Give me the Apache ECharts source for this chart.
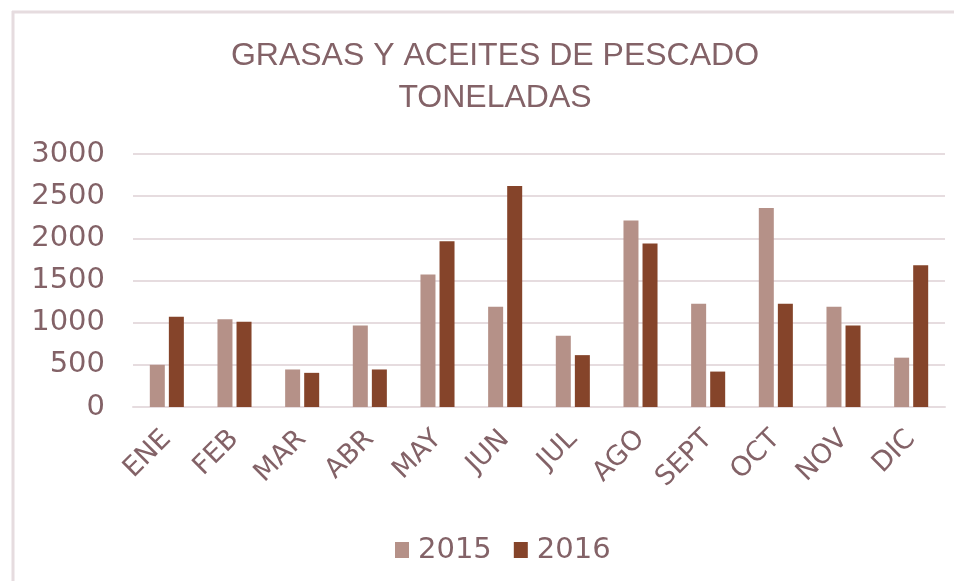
<!DOCTYPE html>
<html>
<head>
<meta charset="utf-8">
<script src="https://cdn.jsdelivr.net/npm/echarts@6/dist/echarts.min.js"></script>
<style>html,body{margin:0;padding:0;background:#fff;}#c{width:954px;height:581px;}</style>
</head>
<body>
<div id="c"></div>
<script>
const categories = ['ENE','FEB','MAR','ABR','MAY','JUN','JUL','AGO','SEPT','OCT','NOV','DIC'];
const values2015 = [500, 1040, 445, 965, 1570, 1190, 845, 2210, 1225, 2360, 1190, 585];
const values2016 = [1070, 1010, 405, 445, 1965, 2620, 615, 1940, 420, 1225, 965, 1680];
const seriesNames = ['2015', '2016'];
const yTicks = [0, 500, 1000, 1500, 2000, 2500, 3000];
const titleLines = ['GRASAS Y ACEITES DE PESCADO', 'TONELADAS'];

const textColor = '#836267';
const gridColor = '#e6dcdf';
const colors = ['#b59188', '#85442a'];

const chart = echarts.init(document.getElementById('c'), null, {renderer: 'canvas'});
chart.setOption({
  backgroundColor: '#ffffff',
  animation: false,
  color: colors,
  graphic: [
    {type: 'line', shape: {x1: 13, y1: 11, x2: 13, y2: 581}, style: {stroke: gridColor, lineWidth: 3}, z: 0},
    {type: 'line', shape: {x1: 12, y1: 12, x2: 954, y2: 12}, style: {stroke: gridColor, lineWidth: 3}, z: 0},
    {type: 'text', x: 495, y: 56, style: {text: titleLines[0], fontFamily: 'Liberation Sans', fontSize: 32, fill: textColor, textAlign: 'center', textVerticalAlign: 'middle'}},
    {type: 'text', x: 495, y: 98, style: {text: titleLines[1], fontFamily: 'Liberation Sans', fontSize: 32, fill: textColor, textAlign: 'center', textVerticalAlign: 'middle'}}
  ],
  legend: {
    data: seriesNames,
    left: 390,
    top: 530,
    itemWidth: 14,
    itemHeight: 16,
    itemGap: 22,
    icon: 'rect',
    textStyle: {color: textColor, fontFamily: 'DejaVu Sans', fontSize: 29, lineHeight: 30, padding: [0, 0, 0, 4]}
  },
  grid: {left: 133, right: 9, top: 154, bottom: 174, containLabel: false},
  xAxis: {
    type: 'category',
    data: categories,
    axisLine: {show: true, lineStyle: {color: gridColor, width: 2}},
    axisTick: {show: false},
    axisLabel: {rotate: 45, margin: 28, color: textColor, fontFamily: 'DejaVu Sans', fontSize: 27, interval: 0, padding: [0, 0, 0, 0]}
  },
  yAxis: {
    type: 'value',
    min: yTicks[0],
    max: yTicks[yTicks.length - 1],
    interval: yTicks[1] - yTicks[0],
    axisLine: {show: false},
    axisTick: {show: false},
    splitLine: {lineStyle: {color: gridColor, width: 2}},
    axisLabel: {margin: 28, color: textColor, fontFamily: 'DejaVu Sans', fontSize: 29, formatter: function (v) { return String(v); }}
  },
  series: [
    {name: seriesNames[0], type: 'bar', data: values2015, barWidth: 15, barGap: '27%', itemStyle: {color: colors[0]}},
    {name: seriesNames[1], type: 'bar', data: values2016, barWidth: 15, barGap: '27%', itemStyle: {color: colors[1]}}
  ]
});
</script>
</body>
</html>
